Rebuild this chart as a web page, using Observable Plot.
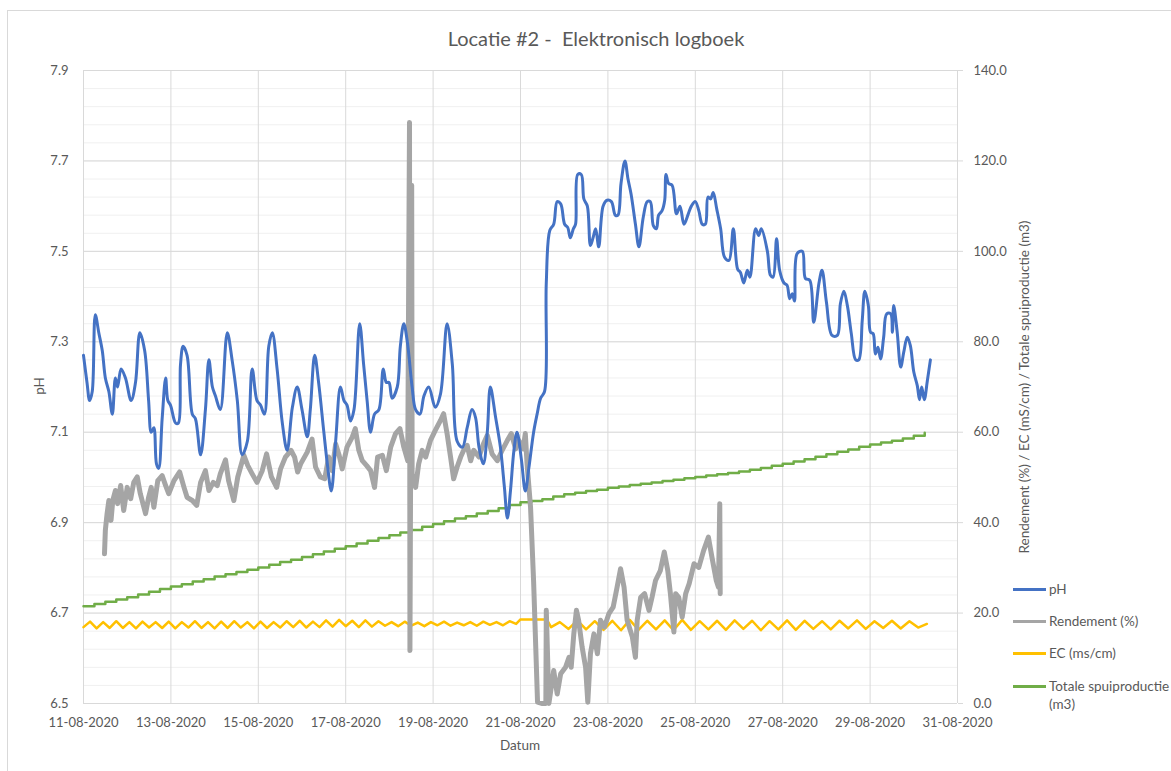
<!DOCTYPE html>
<html><head><meta charset="utf-8">
<script src="https://cdn.jsdelivr.net/npm/d3@7"></script>
<script src="https://cdn.jsdelivr.net/npm/@observablehq/plot@0.6"></script>
<style>
html,body{margin:0;padding:0;background:#fff;}
body{width:1171px;height:771px;overflow:hidden;position:relative;font-family:Lato,"Open Sans",sans-serif;color:#595959;}
#frame{position:absolute;left:7px;top:10px;width:1300px;height:900px;border:1px solid #d9d9d9;box-sizing:border-box;}
#chart{position:absolute;left:0;top:0;}
.t{position:absolute;white-space:pre;line-height:1;}
.rot{transform:translate(-50%,-50%) rotate(-90deg);}
.lg{position:absolute;height:3px;width:33px;}
.ll{position:absolute;font-size:13.5px;line-height:18px;white-space:pre;}
</style></head><body>
<div id="frame"></div>
<div id="chart"></div>
<div class="t" id="title" style="left:596px;top:38px;transform:translate(-50%,-50%);font-size:20px;">Locatie #2 -  Elektronisch logboek</div>
<div class="t rot" id="ylab" style="left:40px;top:386px;font-size:13.5px;">pH</div>
<div class="t" id="xlab" style="left:520px;top:746px;transform:translate(-50%,-50%);font-size:13.5px;">Datum</div>
<div class="t rot" id="y2lab" style="left:1025px;top:387px;font-size:13.5px;">Rendement (%) / EC (mS/cm) / Totale spuiproductie (m3)</div>
<div id="legend"></div>
<script>
// ---- data ----
const startDate = "2020-08-11";
const xTickLabels = ["11-08-2020","13-08-2020","15-08-2020","17-08-2020","19-08-2020","21-08-2020","23-08-2020","25-08-2020","27-08-2020","29-08-2020","31-08-2020"];
const leftTickLabels = ["6.5","6.7","6.9","7.1","7.3","7.5","7.7","7.9"];
const rightTickLabels = ["0.0","20.0","40.0","60.0","80.0","100.0","120.0","140.0"];
const seriesNames = ["pH","Rendement (%)","EC (ms/cm)","Totale spuiproductie\n(m3)"];
const seriesColors = ["#4472C4","#A5A5A5","#FFC000","#70AD47"];

// pH: day offset from 11-08-2020 00:00, value
const phDay = [0.00,0.08,0.14,0.20,0.27,0.35,0.43,0.50,0.58,0.66,0.73,0.78,0.86,0.96,1.09,1.19,1.29,1.40,1.49,1.55,1.61,1.67,1.72,1.80,1.88,1.93,1.99,2.11,2.17,2.22,2.28,2.37,2.49,2.56,2.68,2.79,2.87,2.95,3.02,3.13,3.29,3.40,3.52,3.63,3.75,3.86,3.97,4.05,4.14,4.24,4.32,4.43,4.55,4.66,4.78,4.89,5.00,5.12,5.19,5.29,5.38,5.50,5.58,5.67,5.77,5.88,5.96,6.03,6.11,6.19,6.32,6.41,6.49,6.57,6.66,6.76,6.86,6.93,6.99,7.06,7.18,7.25,7.33,7.41,7.52,7.60,7.70,7.79,7.90,8.05,8.17,8.32,8.44,8.55,8.67,8.78,8.89,8.97,9.05,9.15,9.24,9.31,9.43,9.54,9.63,9.70,9.77,9.85,9.92,10.02,10.11,10.19,10.30,10.38,10.46,10.55,10.59,10.67,10.76,10.84,10.92,11.01,11.08,11.14,11.21,11.26,11.31,11.39,11.45,11.53,11.60,11.66,11.72,11.79,11.89,11.98,12.08,12.17,12.23,12.30,12.39,12.46,12.53,12.63,12.71,12.81,12.90,12.97,13.04,13.11,13.16,13.24,13.30,13.33,13.39,13.47,13.57,13.65,13.74,13.84,13.91,14.00,14.08,14.16,14.23,14.29,14.35,14.41,14.49,14.58,14.67,14.77,14.87,14.97,15.03,15.11,15.19,15.25,15.38,15.45,15.51,15.65,15.72,15.78,15.86,15.93,16.03,16.10,16.16,16.22,16.27,16.33,16.45,16.52,16.62,16.71,16.83,16.90,17.00,17.13,17.25,17.32,17.40,17.48,17.57,17.67,17.74,17.82,17.88,17.96,18.01,18.07,18.12,18.18,18.24,18.31,18.38,18.47,18.51,18.54,18.62,18.70,18.77,18.85,18.92,19.00,19.08,19.13,19.18,19.24,19.31,19.38];
const phVal = [7.27,7.21,7.17,7.19,7.36,7.32,7.28,7.22,7.19,7.14,7.22,7.20,7.24,7.22,7.17,7.21,7.32,7.28,7.17,7.10,7.11,7.03,7.02,7.13,7.22,7.17,7.16,7.12,7.12,7.25,7.29,7.27,7.14,7.13,7.05,7.15,7.26,7.20,7.18,7.15,7.32,7.26,7.17,7.05,7.08,7.24,7.17,7.16,7.14,7.29,7.32,7.24,7.12,7.06,7.155,7.20,7.15,7.09,7.15,7.27,7.21,7.10,7.03,6.97,7.08,7.20,7.17,7.16,7.125,7.15,7.34,7.25,7.17,7.10,7.14,7.15,7.24,7.21,7.21,7.175,7.20,7.29,7.34,7.30,7.20,7.15,7.14,7.18,7.20,7.155,7.185,7.34,7.25,7.08,7.067,7.11,7.15,7.133,7.067,7.03,7.10,7.20,7.133,7.067,6.98,6.91,6.97,7.06,7.10,7.04,6.97,7.02,7.10,7.14,7.175,7.19,7.43,7.546,7.56,7.61,7.605,7.56,7.553,7.53,7.55,7.56,7.67,7.67,7.616,7.60,7.513,7.53,7.55,7.51,7.60,7.613,7.61,7.58,7.58,7.65,7.70,7.66,7.627,7.56,7.51,7.576,7.61,7.61,7.557,7.55,7.58,7.59,7.613,7.67,7.65,7.646,7.583,7.60,7.56,7.583,7.60,7.61,7.59,7.56,7.56,7.62,7.616,7.63,7.594,7.55,7.487,7.48,7.55,7.46,7.454,7.43,7.458,7.443,7.55,7.535,7.55,7.50,7.447,7.443,7.528,7.458,7.43,7.425,7.395,7.406,7.39,7.495,7.50,7.44,7.436,7.343,7.43,7.458,7.388,7.314,7.314,7.384,7.412,7.38,7.318,7.26,7.26,7.347,7.412,7.38,7.321,7.318,7.273,7.288,7.262,7.31,7.362,7.362,7.321,7.38,7.321,7.244,7.277,7.31,7.292,7.233,7.203,7.172,7.20,7.172,7.214,7.26];

// Rendement (%): day offset, value (right axis)
const rDay = [0.48,0.50,0.54,0.58,0.63,0.67,0.73,0.78,0.85,0.92,1.00,1.08,1.15,1.23,1.30,1.42,1.49,1.55,1.61,1.70,1.80,1.88,1.95,2.07,2.20,2.30,2.37,2.49,2.59,2.68,2.79,2.87,2.97,3.06,3.13,3.25,3.32,3.44,3.53,3.67,3.76,3.86,3.97,4.09,4.19,4.30,4.42,4.51,4.62,4.75,4.83,4.90,4.97,5.12,5.23,5.31,5.42,5.52,5.61,5.69,5.77,5.85,5.92,6.03,6.15,6.22,6.30,6.38,6.48,6.57,6.66,6.73,6.84,6.93,7.03,7.14,7.24,7.33,7.42,7.46,7.47,7.51,7.52,7.60,7.67,7.75,7.83,7.94,8.05,8.17,8.24,8.32,8.40,8.47,8.55,8.63,8.70,8.78,8.86,8.93,9.05,9.15,9.24,9.35,9.47,9.58,9.70,9.79,9.89,9.96,10.06,10.11,10.15,10.23,10.30,10.39,10.50,10.58,10.59,10.65,10.76,10.84,10.92,11.03,11.11,11.16,11.22,11.28,11.33,11.41,11.49,11.54,11.60,11.68,11.76,11.83,11.92,12.02,12.12,12.21,12.29,12.37,12.44,12.56,12.63,12.67,12.75,12.84,12.94,13.01,13.09,13.20,13.29,13.37,13.43,13.51,13.55,13.62,13.70,13.78,13.86,13.97,14.08,14.19,14.30,14.38,14.48,14.53,14.56,14.57];
const rVal = [33.1,38.3,42.0,44.9,40.5,44.9,47.1,44.2,48.2,42.7,47.8,45.3,48.9,50.1,46.4,42.0,45.6,47.8,43.4,49.3,50.4,48.2,46.4,49.3,51.2,47.8,45.6,44.9,43.8,48.9,51.5,47.1,48.9,48.2,50.8,53.9,49.3,44.9,50.1,54.9,52.6,50.8,48.9,51.5,55.2,50.1,47.8,51.9,54.5,56.0,54.5,51.2,53.0,55.6,58.5,52.3,50.1,49.7,54.5,51.5,57.4,54.9,51.9,56.7,58.9,60.8,56.0,53.7,52.6,51.5,47.8,54.5,54.9,51.5,56.7,59.7,60.8,56.7,53.7,128.5,11.7,114.6,50.8,47.8,53.0,56.0,54.5,58.2,60.4,62.6,64.1,59.7,54.5,49.7,52.3,54.5,56.0,57.1,53.7,56.0,54.5,57.4,59.3,55.2,53.7,56.0,58.2,59.7,56.3,58.2,56.3,59.7,53.0,43.4,27.0,0.3,0,0,20.6,0,7.3,2.1,6.6,8.0,10.2,8.0,15.4,20.6,18.4,12.5,8.0,0.3,11.0,15.4,11.0,18.4,16.9,19.8,21.3,25.7,29.8,25.7,18.4,14.7,10.2,18.4,23.5,24.3,20.6,23.5,27.2,29.4,33.5,29.4,24.3,15.8,24.3,23.5,19.1,24.3,26.5,30.9,30.1,33.8,36.8,32.4,27.2,25.7,44.2,24.3];

// EC (ms/cm): part 1 every 0.15 day from day 0; flat part; part 2 every 0.2 day from day 10.7
const ec1Start = 0, ec1Step = 0.15;
const ec1 = [16.9,18.1,16.6,18.0,16.7,18.2,16.7,18.0,16.6,18.1,16.8,18.0,16.7,18.1,16.6,18.0,16.8,18.2,16.7,18.0,16.6,18.1,16.7,18.2,16.8,18.0,16.6,18.1,16.7,18.0,16.8,18.2,16.9,18.3,16.8,18.1,16.9,18.4,17.0,18.5,17.1,18.3,16.9,18.4,17.0,18.2,17.2,18.0,17.1,18.1,17.2,17.9,17.1,18.0,17.3,18.1,17.2,17.9,17.3,18.0,17.2,18.1,17.4,18.0,17.3,18.2,17.6];
const ecFlatDay = [10.0, 10.6];
const ecFlat = [18.6, 18.6];
const ec2Start = 10.7, ec2Step = 0.2;
const ec2 = [16.9,18.0,16.5,18.4,16.4,18.2,16.3,18.3,16.2,18.5,16.3,18.3,16.4,18.4,16.2,18.5,16.3,18.2,16.4,18.3,16.3,18.4,16.5,18.3,16.2,18.2,16.4,18.4,16.3,18.3,16.5,18.2,16.4,18.3,16.6,18.4,16.5,18.2,16.7,18.3,16.6,18.2,16.8,17.6];

// Totale spuiproductie (m3): every 0.25 day from day 0
const totStart = 0, totStep = 0.25;
const tot = [21.5,22.0,22.5,23.0,23.5,24.1,24.7,25.3,25.9,26.4,27.0,27.5,28.1,28.6,29.1,29.6,30.1,30.7,31.3,31.8,32.4,33.0,33.6,34.2,34.8,35.4,36.0,36.6,37.2,37.8,38.4,39.1,39.7,40.3,40.9,41.4,42.0,42.6,43.2,43.9,44.5,44.8,45.2,45.8,46.3,46.6,47.0,47.3,47.7,48.0,48.3,48.6,48.9,49.2,49.5,49.8,50.1,50.4,50.7,51.0,51.3,51.7,52.1,52.6,53.0,53.5,54.0,54.6,55.1,55.7,56.2,56.8,57.3,57.7,58.1,58.6,59.2,59.9];

// ---- build ----
const t0 = Date.parse(startDate + "T00:00:00Z");
const dayToDate = d => new Date(t0 + d * 86400000);
const parseLabel = s => { const [dd, mm, yy] = s.split("-"); return new Date(Date.UTC(+yy, +mm - 1, +dd)); };
const xTicks = xTickLabels.map(parseLabel);
const yMajor = leftTickLabels.map(Number);
const yMinor = d3.range(0, 36).map(i => 6.5 + i * 0.04);
const rightToPh = r => 6.5 + r / 100; // right axis 0..140 maps onto 6.5..7.9

const phData = phDay.map((d, i) => ({t: dayToDate(d), v: phVal[i]}));
const rData = rDay.map((d, i) => ({t: dayToDate(d), v: rightToPh(rVal[i])}));
const ecData = [
  ...ec1.map((v, i) => ({t: dayToDate(ec1Start + i * ec1Step), v: rightToPh(v)})),
  ...ecFlat.map((v, i) => ({t: dayToDate(ecFlatDay[i]), v: rightToPh(v)})),
  ...ec2.map((v, i) => ({t: dayToDate(ec2Start + i * ec2Step), v: rightToPh(v)}))
];
const totData = tot.map((v, i) => ({t: dayToDate(totStart + i * totStep), v: rightToPh(v)}));

const chart = Plot.plot({
  width: 1171, height: 771,
  marginLeft: 83, marginRight: 214, marginTop: 70, marginBottom: 68,
  style: {fontFamily: "Lato, 'Open Sans', sans-serif", fontSize: "13px", color: "#595959", background: "transparent", overflow: "visible"},
  x: {type: "utc", domain: [xTicks[0], xTicks[xTicks.length - 1]]},
  y: {domain: [yMajor[0], yMajor[yMajor.length - 1]]},
  marks: [
    Plot.gridY(yMinor, {stroke: "#f0f0f0", strokeOpacity: 1}),
    Plot.gridY(yMajor, {stroke: "#d9d9d9", strokeOpacity: 1}),
    Plot.gridX(xTicks, {stroke: "#d9d9d9", strokeOpacity: 1}),
    Plot.axisX(xTicks, {tickSize: 0, tickPadding: 14, label: null,
      tickFormat: d => xTickLabels[xTicks.findIndex(x => +x === +d)]}),
    Plot.axisY(yMajor, {anchor: "left", tickSize: 0, tickPadding: 15, label: null,
      tickFormat: d => leftTickLabels[yMajor.indexOf(d)]}),
    Plot.axisY(yMajor, {anchor: "right", tickSize: 5, tickPadding: 11, label: null, stroke: "#d9d9d9",
      tickFormat: d => rightTickLabels[yMajor.indexOf(d)]}),
    Plot.line(totData, {x: "t", y: "v", stroke: seriesColors[3], strokeWidth: 2.5, curve: "step-after"}),
    Plot.line(ecData, {x: "t", y: "v", stroke: seriesColors[2], strokeWidth: 2.5}),
    Plot.line(rData, {x: "t", y: "v", stroke: seriesColors[1], strokeWidth: 5, strokeLinejoin: "round"}),
    Plot.line(phData, {x: "t", y: "v", stroke: seriesColors[0], strokeWidth: 3, curve: "catmull-rom"})
  ]
});
document.getElementById("chart").appendChild(chart);

// legend
const lg = document.getElementById("legend");
const lgY = [589, 621, 653, 686];
seriesNames.forEach((name, i) => {
  const sw = document.createElement("div");
  sw.className = "lg";
  sw.style.left = "1013px"; sw.style.top = (lgY[i] - 1.5) + "px"; sw.style.background = seriesColors[i];
  lg.appendChild(sw);
  const lb = document.createElement("div");
  lb.className = "ll";
  lb.style.left = "1049px"; lb.style.top = (lgY[i] - 9) + "px";
  lb.textContent = name;
  lg.appendChild(lb);
});
</script>
</body></html>
